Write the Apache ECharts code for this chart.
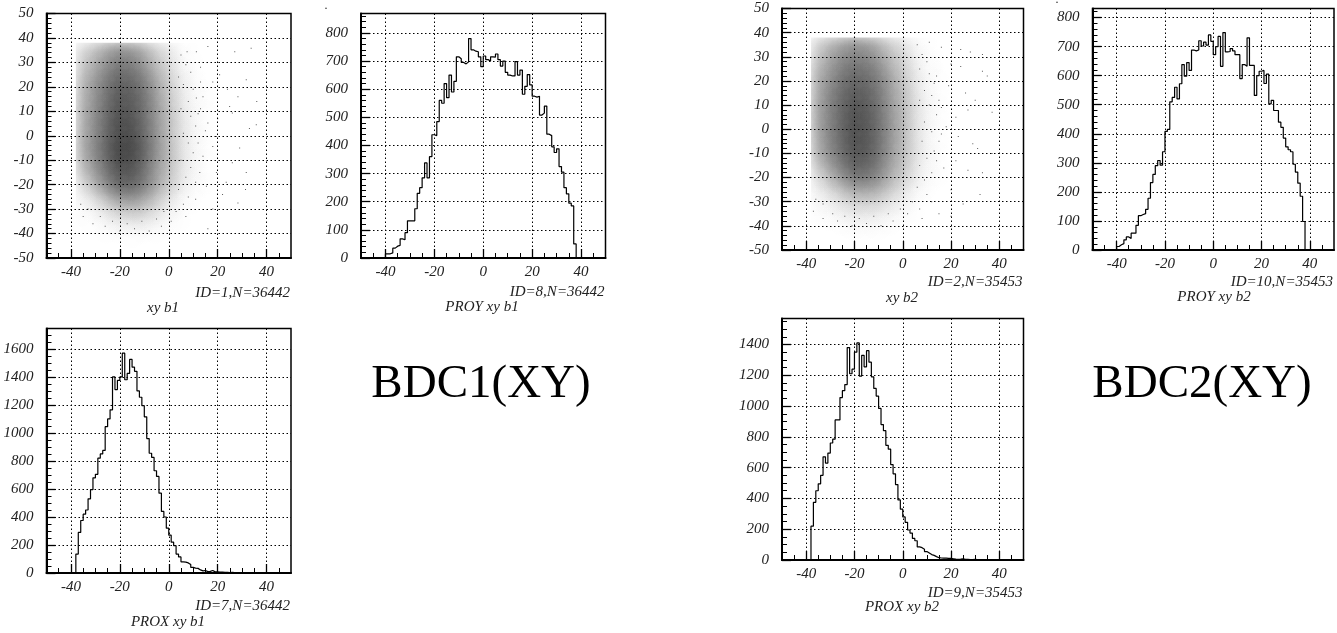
<!DOCTYPE html>
<html><head><meta charset="utf-8">
<style>html,body{margin:0;padding:0;background:#fff}#c{width:1337px;height:633px}</style>
<script src="https://cdn.jsdelivr.net/npm/echarts@6/dist/echarts.min.js"></script>
</head><body><div id="c"></div>
<script>
// ---- tick labels ----
const xTicks = [-40,-20,0,20,40];
const xMinor = [-45,-35,-30,-25,-15,-10,-5,5,10,15,25,30,35,45];
const yTicksXY = [-50,-40,-30,-20,-10,0,10,20,30,40,50];
const yTicksProy1 = [0,100,200,300,400,500,600,700,800];
const yTicksProy2 = [0,100,200,300,400,500,600,700,800];
const yTicksProx1 = [0,200,400,600,800,1000,1200,1400,1600];
const yTicksProx2 = [0,200,400,600,800,1000,1200,1400];

// ---- projections: counts in 1-unit bins; each list starts at the named x ----
const proyB1Start = -40;
const proyB1 = [15,15,18,35,42,45,68,65,90,132,132,132,175,230,250,285,338,285,360,438,435,485,560,550,620,570,650,590,628,715,708,695,690,697,780,740,735,733,715,680,718,705,700,715,714,725,705,682,700,660,650,647,647,698,650,668,582,610,652,615,575,572,575,508,515,540,440,435,395,375,388,325,305,250,228,195,185,50];
const proxB1Start = -38;
const proxB1 = [135,290,375,420,450,530,595,680,705,820,850,875,1045,1100,1165,1400,1310,1375,1400,1570,1380,1425,1525,1470,1440,1300,1255,1195,1115,960,855,825,730,690,570,440,400,320,270,220,195,135,115,80,78,72,60,40,35,33,22,15,18,10,12,18,8,8,6,6,4,5,3,4,3,2,3,2,2,1,2,1,1,1,1,1,0,1];
const proyB2Start = -40;
const proyB2 = [12,18,22,35,45,40,58,58,85,118,122,125,140,178,232,260,290,308,292,338,408,415,510,525,560,520,572,638,598,645,618,688,685,688,720,702,715,705,740,718,672,700,735,632,748,682,683,693,685,672,672,590,638,632,730,635,635,532,600,615,618,573,605,503,515,480,480,440,422,385,355,345,338,295,268,230,185,98];
const proxB2Start = -38;
const proxB2 = [220,375,450,495,550,670,630,695,760,785,910,910,1055,1100,1140,1380,1210,1240,1350,1410,1195,1330,1255,1360,1285,1190,1115,1065,985,880,840,745,720,620,560,490,390,330,280,245,195,175,140,125,85,80,70,55,45,35,30,22,15,13,12,12,10,10,8,6,5,6,8,5,4,3,3,4,3,2,2,1,2,1,1,1,0];

// ---- xy panels: NOT the original ~36000 points. Shading levels per 5x5 cell, estimated by eye
//      from the picture's darkness and the two projections, drawn as a soft density field. ----
const cellX = [-35.5,-30.5,-25.5,-20.5,-15.5,-10.5,-5.5,-0.5,4.5,9.5,14.5];
const cellY = [35.5,30.5,25.5,20.5,15.5,10.5,5.5,0.5,-4.5,-9.5,-14.5,-19.5,-24.5,-29.5,-34.5,-39.5];
const densB1 = [
[90,160,260,340,330,230,120,65,14,4,1],
[130,230,350,460,440,320,180,100,26,7,2],
[170,290,430,570,550,410,250,130,48,12,3],
[200,340,500,660,640,490,300,160,62,18,5],
[210,350,530,720,690,530,330,175,70,22,6],
[220,370,560,760,730,550,350,195,78,25,7],
[230,380,590,810,790,580,360,205,85,28,8],
[230,390,600,830,820,600,370,210,85,28,8],
[240,400,620,900,890,640,380,215,85,30,9],
[210,370,590,860,840,610,360,215,90,30,9],
[160,320,510,740,750,550,330,190,78,27,8],
[90,230,410,620,640,490,300,165,68,20,6],
[40,110,230,380,410,330,200,100,32,10,3],
[14,40,100,170,200,170,105,50,14,5,1],
[5,15,35,65,80,75,45,20,6,2,1],
[1,3,6,12,16,14,10,4,1,0,0]];
const densB2 = [
[110,190,280,340,320,230,130,80,24,8,2],
[150,260,370,430,410,320,190,125,42,14,4],
[190,310,440,530,500,400,250,150,60,18,5],
[230,360,510,620,590,470,300,180,75,24,6],
[250,400,560,680,650,510,330,200,90,30,8],
[260,420,590,740,690,540,340,215,95,32,9],
[270,430,600,780,730,560,360,220,100,34,9],
[260,420,600,790,740,560,360,220,100,34,10],
[250,410,590,790,750,570,360,220,100,36,10],
[220,380,550,740,730,550,340,210,95,34,10],
[160,310,480,650,640,490,310,190,80,28,9],
[90,210,350,500,510,400,250,150,65,22,6],
[45,105,190,290,310,260,160,90,32,11,3],
[18,45,90,140,150,130,85,45,14,5,2],
[7,20,38,62,68,60,36,18,6,2,1],
[2,5,10,18,20,17,10,5,2,1,0]];

// ---- sparse dots, approximate positions: the first group on each list was read from the
//      picture's right-hand tail, the second was placed by eye to suggest the fringes. ----
const tailB1 = [[7.5,34.4],[11.3,34.4],[16,36.5],[27,34.4],[33.7,35.8],[20.8,24.9],[31.7,22.9],[28.3,16],[24.9,12],[14,16],[11.3,15.4],[26,9.3],[16,5.2],[35.8,4.5],[19.5,-0.3],[14,-8.4],[12.7,-15],[31.4,-22],[28.3,-27.5],[23.5,-19],[18,-4.4],[31.7,-15],[19.5,-15],[15.4,-20.7],[18,-30],[7,-33],[16,-38],
[22,30],[13,28],[18,22],[24,19],[12,9],[20,7],[15,2],[29,-5],[26,-11],[22,-24],[11,-26],[36,14],[33,3],
[5,33],[7,29],[9,26],[4,24],[6,21],[10,19],[8,14],[5,11],[9,8],[11,4],[6,1],[8,-3],[10,-7],[5,-10],[9,-13],[7,-17],[11,-19],[4,-22],[8,-25],[6,-28],[3,-31],[1,-35],[-3,-37],[-8,-39],[-14,-38],[-20,-39],[-26,-37],[-31,-36],[-35,-33],[-36,-28],[-33,-30],[-28,-33],[-23,-35],[-17,-36],[-11,-35],[-5,-34],[-2,-31],[13,22],[12,-3],[13,11]];
const tailB2 = [[11,36],[16,34],[24,33],[28,32],[33,24],[24,26],[20,27],[14,22],[19,18],[26,15],[30,12],[27,8],[22,5],[16,9],[37,7],[18,1],[29,-6],[31,-8],[37,-10],[22,-13],[15,-5],[17,-16],[27,-17],[33,-18],[32,-27],[20,-25],[25,-31],[15,-35],[8,-37],[20,-36],[12,-30],[12,14],[23,-3],[33,31],[35,22],
[6,35],[8,31],[10,28],[7,25],[11,23],[13,19],[9,16],[7,12],[11,10],[14,6],[9,3],[12,-1],[8,-5],[13,-9],[10,-12],[7,-15],[12,-18],[9,-21],[6,-24],[10,-27],[4,-30],[7,-33],[2,-35],[-4,-38],[-9,-40],[-15,-39],[-21,-40],[-27,-38],[-33,-37],[-37,-34],[-36,-29],[-33,-31],[-29,-35],[-24,-36],[-18,-37],[-12,-36],[-6,-35],[-1,-33],[15,12],[14,-13],[16,-2]];

// ---- text ----
const panelIds = ['ID=1,N=36442','ID=8,N=36442','ID=7,N=36442','ID=2,N=35453','ID=10,N=35453','ID=9,N=35453'];
const panelTitles = ['xy b1','PROY xy b1','PROX xy b1','xy b2','PROY xy b2','PROX xy b2'];
const bigLabels = ['BDC1(XY)','BDC2(XY)'];
const strayMarks = ['.','.'];

// ---- layout ----
const FONT = '"Liberation Serif","Times New Roman",serif';
const LAYOUT = [
 {l:46.5,t:13.5,w:244.5,h:244.5,ymin:-50,ymax:50,maj:yTicksXY,step:2,idY:293,titleX:163,titleY:308},
 {l:361,t:13.5,w:244.5,h:244.5,ymin:0,ymax:869,maj:yTicksProy1,step:20,idY:292,titleX:482,titleY:307},
 {l:46.5,t:328.5,w:244.5,h:244.5,ymin:0,ymax:1746,maj:yTicksProx1,step:50,idY:606,titleX:168,titleY:622},
 {l:782,t:8.5,w:241.5,h:241.5,ymin:-50,ymax:50,maj:yTicksXY,step:2,idY:282,titleX:902,titleY:298},
 {l:1092.5,t:8.5,w:241.5,h:241.5,ymin:0,ymax:831,maj:yTicksProy2,step:20,idY:282,titleX:1214,titleY:297},
 {l:782,t:318.5,w:241.5,h:241.5,ymin:0,ymax:1569,maj:yTicksProx2,step:50,idY:593,titleX:902,titleY:607}
];
const histOf = {1:[proyB1Start,proyB1],2:[proxB1Start,proxB1],4:[proyB2Start,proyB2],5:[proxB2Start,proxB2]};
const densOf = {0:[densB1,tailB1],3:[densB2,tailB2]};

function minorList(p){
  const out=[];
  for(let v=p.ymin;v<=p.ymax;v+=p.step){ if(!p.maj.includes(v)) out.push(v); }
  return out;
}
function histPairs(start,vals){
  const a=[[start,0]];
  vals.forEach((v,i)=>a.push([start+i,v]));
  a.push([start+vals.length,0]);
  return a;
}
function cellTriples(table){
  const out=[];
  table.forEach((row,j)=>row.forEach((v,i)=>{ if(v>0) out.push([cellX[i],cellY[j],v]); }));
  return out;
}
function renderCell(params,api){
  const x=api.value(0),y=api.value(1),v=api.value(2);
  const c=api.coord([x,y]);
  const s=api.size([5,5]);
  const r=s[0]*1.5;
  const edge=api.coord([-38,38]);
  const x0=Math.max(c[0]-r,edge[0]), y0=Math.max(c[1]-r,edge[1]);
  const x1=c[0]+r, y1=c[1]+r;
  const a=1-Math.exp(-v/1500);
  const k=(f)=>'rgba(0,0,0,'+(a*f)+')';
  return {type:'rect',shape:{x:x0,y:y0,width:x1-x0,height:y1-y0},
    style:{fill:new echarts.graphic.RadialGradient(c[0],c[1],r,[
      {offset:0,color:k(1)},{offset:0.25,color:k(0.88)},{offset:0.5,color:k(0.55)},
      {offset:0.75,color:k(0.2)},{offset:1,color:k(0)}],true)}};
}

const grid=[],xAxis=[],yAxis=[],series=[],graphic=[];
const labelStyle={color:'#222',fontFamily:FONT,fontStyle:'italic',fontSize:15,formatter:v=>String(v)};
LAYOUT.forEach((p,i)=>{
  grid.push({left:p.l,top:p.t,width:p.w,height:p.h,show:true,borderColor:'#000',borderWidth:1.5,backgroundColor:'transparent'});
  const gx=i*2;
  xAxis.push({gridIndex:i,type:'value',min:-50,max:50,position:'bottom',
    axisLine:{show:true,onZero:false,lineStyle:{color:'#000',width:2}},
    axisTick:{show:true,inside:true,length:9,customValues:xTicks,lineStyle:{color:'#000',width:1.3}},
    axisLabel:{show:true,customValues:xTicks,margin:7,...labelStyle},
    splitLine:{show:true,lineStyle:{color:'#000',type:[1.5,2.5],width:1}},z:5});
  xAxis.push({gridIndex:i,type:'value',min:-50,max:50,position:'bottom',
    axisLine:{show:false,onZero:false},
    axisTick:{show:true,inside:true,length:5,customValues:xMinor,lineStyle:{color:'#000',width:1}},
    axisLabel:{show:false},splitLine:{show:false}});
  yAxis.push({gridIndex:i,type:'value',min:p.ymin,max:p.ymax,position:'left',
    axisLine:{show:true,onZero:false,lineStyle:{color:'#000',width:2}},
    axisTick:{show:true,inside:true,length:9,customValues:p.maj,lineStyle:{color:'#000',width:1.3}},
    axisLabel:{show:true,customValues:p.maj,margin:13,...labelStyle},
    splitLine:{show:true,lineStyle:{color:'#000',type:[1.5,2.5],width:1}},z:5});
  yAxis.push({gridIndex:i,type:'value',min:p.ymin,max:p.ymax,position:'left',
    axisLine:{show:false,onZero:false},
    axisTick:{show:true,inside:true,length:5,customValues:minorList(p),lineStyle:{color:'#000',width:1}},
    axisLabel:{show:false},splitLine:{show:false}});
  if(histOf[i]){
    series.push({type:'line',xAxisIndex:gx,yAxisIndex:gx,step:'end',showSymbol:false,symbol:'none',
      animation:false,silent:true,z:3,
      lineStyle:{color:'#000',width:1.2},data:histPairs(histOf[i][0],histOf[i][1])});
  }
  if(densOf[i]){
    series.push({type:'custom',xAxisIndex:gx,yAxisIndex:gx,coordinateSystem:'cartesian2d',
      renderItem:renderCell,animation:false,silent:true,clip:true,z:1,
      encode:{x:0,y:1},data:cellTriples(densOf[i][0])});
    series.push({type:'scatter',xAxisIndex:gx,yAxisIndex:gx,symbol:'rect',symbolSize:1,
      animation:false,silent:true,z:2,itemStyle:{color:'#333'},data:densOf[i][1]});
  }
  graphic.push({type:'text',x:p.l+p.w-1,y:p.idY,style:{text:panelIds[i],fill:'#222',font:'italic 15px '+FONT,textAlign:'right',textVerticalAlign:'middle'}});
  graphic.push({type:'text',x:p.titleX,y:p.titleY,style:{text:panelTitles[i],fill:'#222',font:'italic 15px '+FONT,textAlign:'center',textVerticalAlign:'middle'}});
});
graphic.push({type:'text',x:481,y:385,style:{text:bigLabels[0],fill:'#000',font:'47px '+FONT,textAlign:'center',textVerticalAlign:'middle'}});
graphic.push({type:'text',x:1202,y:385,style:{text:bigLabels[1],fill:'#000',font:'47px '+FONT,textAlign:'center',textVerticalAlign:'middle'}});
graphic.push({type:'text',x:326,y:0,style:{text:strayMarks[0],fill:'#222',font:'12px '+FONT,textAlign:'center',textVerticalAlign:'top'}});
graphic.push({type:'text',x:1057,y:-6,style:{text:strayMarks[1],fill:'#222',font:'12px '+FONT,textAlign:'center',textVerticalAlign:'top'}});

const chart=echarts.init(document.getElementById('c'),null,{renderer:'canvas'});
chart.setOption({animation:false,backgroundColor:'#fff',grid,xAxis,yAxis,series,graphic});
</script></body></html>
